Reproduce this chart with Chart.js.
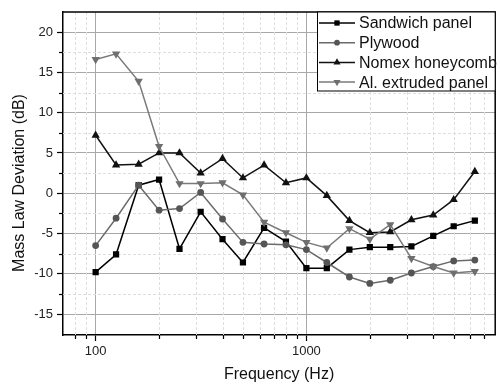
<!DOCTYPE html>
<html>
<head>
<meta charset="utf-8">
<script src="https://cdn.jsdelivr.net/npm/chart.js@4/dist/chart.umd.min.js"></script>
<style>
  html, body { margin: 0; padding: 0; background: #fff; }
  #wrap { width: 500px; height: 384px; position: relative; }
</style>
</head>
<body>
<div id="wrap"><canvas id="chart"></canvas></div>
<script>
// frequencies (Hz), 1/3 octave bands
const freqs = [100, 125, 160, 200, 250, 315, 400, 500, 630, 800, 1000, 1250, 1600, 2000, 2500, 3150, 4000, 5000, 6300];

// mass law deviation (dB) per panel type
const sandwich   = [-9.8, -7.6, 1.0, 1.7, -6.9, -2.3, -5.7, -8.6, -4.3, -6.0, -9.3, -9.3, -7.0, -6.7, -6.7, -6.6, -5.3, -4.1, -3.4];
const plywood    = [-6.5, -3.1, 1.0, -2.1, -1.9, 0.1, -3.2, -6.1, -6.3, -6.4, -7.0, -8.6, -10.4, -11.2, -10.8, -9.9, -9.1, -8.4, -8.3];
const nomex      = [7.2, 3.5, 3.6, 5.0, 5.0, 2.5, 4.3, 1.9, 3.5, 1.3, 1.9, -0.3, -3.4, -4.9, -4.8, -3.3, -2.7, -0.8, 2.7];
const alExtruded = [16.6, 17.3, 13.9, 5.8, 1.2, 1.2, 1.3, -0.2, -3.6, -4.9, -6.1, -6.8, -4.4, -5.7, -3.9, -8.1, -9.1, -9.9, -9.7];

const seriesNames = ["Sandwich panel", "Plywood", "Nomex honeycomb", "Al. extruded panel"];

// tick positions
const xMajorTicks = [100, 1000];
const xMinorTicks = [80, 90, 200, 300, 400, 500, 600, 700, 800, 900, 2000, 3000, 4000, 5000, 6000, 7000];
const yMajorTicks = [-15, -10, -5, 0, 5, 10, 15, 20];
const yMinorTicks = [-12.5, -7.5, -2.5, 2.5, 7.5, 12.5, 17.5];

const FONT = "'Liberation Sans', Arial, sans-serif";

function toPoints(vals) {
  return freqs.map((f, i) => ({ x: f, y: vals[i] }));
}

// draw a marker by hand (used for the legend)
function drawMarker(ctx, style, r, x, y, color) {
  ctx.fillStyle = color;
  ctx.beginPath();
  if (style === "rect") {
    const s = r / Math.SQRT2;
    ctx.rect(x - s, y - s, 2 * s, 2 * s);
  } else if (style === "circle") {
    ctx.arc(x, y, r, 0, Math.PI * 2);
  } else {
    const dir = style === "down" ? -1 : 1;
    ctx.moveTo(x, y - dir * r);
    ctx.lineTo(x + r * 0.866, y + dir * r * 0.5);
    ctx.lineTo(x - r * 0.866, y + dir * r * 0.5);
    ctx.closePath();
  }
  ctx.fill();
}

const extras = {
  id: "extras",
  beforeDatasetsDraw(chart) {
    const { ctx, chartArea: a, scales: { x, y } } = chart;
    ctx.save();
    ctx.strokeStyle = "#dedede";
    ctx.lineWidth = 1;
    ctx.setLineDash([3, 2]);
    xMinorTicks.forEach(v => {
      const px = Math.round(x.getPixelForValue(v)) + 0.5;
      ctx.beginPath(); ctx.moveTo(px, a.top); ctx.lineTo(px, a.bottom); ctx.stroke();
    });
    yMinorTicks.forEach(v => {
      const py = Math.round(y.getPixelForValue(v)) + 0.5;
      ctx.beginPath(); ctx.moveTo(a.left, py); ctx.lineTo(a.right, py); ctx.stroke();
    });
    ctx.restore();
  },
  afterDraw(chart) {
    const { ctx, chartArea: a, scales: { x, y } } = chart;
    ctx.save();
    // frame top and right
    ctx.strokeStyle = "#000";
    ctx.lineWidth = 1.5;
    ctx.beginPath();
    ctx.moveTo(a.left, a.top); ctx.lineTo(a.right, a.top); ctx.lineTo(a.right, a.bottom);
    ctx.stroke();

    // minor tick marks
    ctx.lineWidth = 1.2;
    xMinorTicks.forEach(v => {
      const px = Math.round(x.getPixelForValue(v)) + 0.5;
      ctx.beginPath(); ctx.moveTo(px, a.bottom); ctx.lineTo(px, a.bottom + 4); ctx.stroke();
    });
    yMinorTicks.forEach(v => {
      const py = Math.round(y.getPixelForValue(v)) + 0.5;
      ctx.beginPath(); ctx.moveTo(a.left - 4, py); ctx.lineTo(a.left, py); ctx.stroke();
    });

    // y title
    ctx.fillStyle = "#111";
    ctx.font = "16px " + FONT;
    ctx.textAlign = "center";
    ctx.textBaseline = "middle";
    ctx.translate(20, 183);
    ctx.rotate(-Math.PI / 2);
    ctx.fillText("Mass Law Deviation (dB)", 0, 0);
    ctx.restore();

    // legend box
    ctx.save();
    const lx = 317.5, ly = a.top, lw = a.right - 317.5, lh = 79;
    ctx.fillStyle = "#fff";
    ctx.fillRect(lx, ly, lw, lh);
    ctx.strokeStyle = "#000";
    ctx.lineWidth = 1;
    ctx.strokeRect(lx, ly, lw, lh);
    ctx.font = "16px " + FONT;
    ctx.textAlign = "left";
    ctx.textBaseline = "middle";
    chart.data.datasets.forEach((ds, i) => {
      const yy = a.top + 11 + i * 19.7;
      ctx.strokeStyle = ds.borderColor;
      ctx.lineWidth = 1.5;
      ctx.beginPath(); ctx.moveTo(319, yy); ctx.lineTo(355, yy); ctx.stroke();
      drawMarker(ctx, ds.legendMarker, ds.pointRadius * 0.85, 337, yy, ds.pointBackgroundColor);
      ctx.fillStyle = "#111";
      ctx.fillText(ds.label, 359, yy + 1);
    });
    ctx.restore();
  }
};

function makeDataset(label, vals, color, pointColor, style, rotation, radius, order, legendMarker) {
  return {
    label: label,
    data: toPoints(vals),
    borderColor: color,
    backgroundColor: pointColor,
    pointBackgroundColor: pointColor,
    pointBorderColor: pointColor,
    pointBorderWidth: 0,
    pointStyle: style,
    rotation: rotation,
    pointRadius: radius,
    borderWidth: 1.5,
    showLine: true,
    tension: 0,
    order: order,
    legendMarker: legendMarker
  };
}

const canvas = document.getElementById("chart");
new Chart(canvas.getContext("2d"), {
  type: "scatter",
  data: {
    datasets: [
      makeDataset(seriesNames[0], sandwich, "#000000", "#000000", "rect", 0, 4.4, 3, "rect"),
      makeDataset(seriesNames[1], plywood, "#6a6a6a", "#555555", "circle", 0, 3.4, 2, "circle"),
      makeDataset(seriesNames[2], nomex, "#111111", "#111111", "triangle", 0, 4.8, 1, "up"),
      makeDataset(seriesNames[3], alExtruded, "#7a7a7a", "#6e6e6e", "triangle", 180, 4.8, 0, "down")
    ]
  },
  options: {
    responsive: true,
    maintainAspectRatio: false,
    animation: false,
    layout: { padding: { top: 12, right: 1, left: 0, bottom: 0 } },
    plugins: {
      legend: { display: false },
      tooltip: { enabled: false }
    },
    scales: {
      x: {
        type: "logarithmic",
        min: 70,
        max: 7870,
        bounds: "data",
        afterBuildTicks: scale => { scale.ticks = xMajorTicks.map(v => ({ value: v })); },
        afterFit: scale => { scale.height = 49; },
        ticks: {
          autoSkip: false,
          maxRotation: 0,
          padding: 3,
          color: "#222",
          font: { family: FONT, size: 13 },
          callback: v => String(v)
        },
        grid: { color: "#a8a8a8", lineWidth: 1, tickLength: 6, tickColor: "#000", tickWidth: 1.2 },
        border: { color: "#000", width: 1.5 },
        title: {
          display: true,
          text: "Frequency (Hz)",
          color: "#111",
          font: { family: FONT, size: 16 },
          padding: { top: 0, bottom: 0 }
        }
      },
      y: {
        min: -17.6,
        max: 22.5,
        afterBuildTicks: scale => { scale.ticks = yMajorTicks.map(v => ({ value: v })); },
        afterFit: scale => { scale.width = 63; },
        ticks: {
          padding: 4,
          color: "#222",
          font: { family: FONT, size: 13 },
          callback: v => String(v)
        },
        grid: { color: "#a8a8a8", lineWidth: 1, tickLength: 6, tickColor: "#000", tickWidth: 1.2 },
        border: { color: "#000", width: 1.5 }
      }
    }
  },
  plugins: [extras]
});
</script>
</body>
</html>
